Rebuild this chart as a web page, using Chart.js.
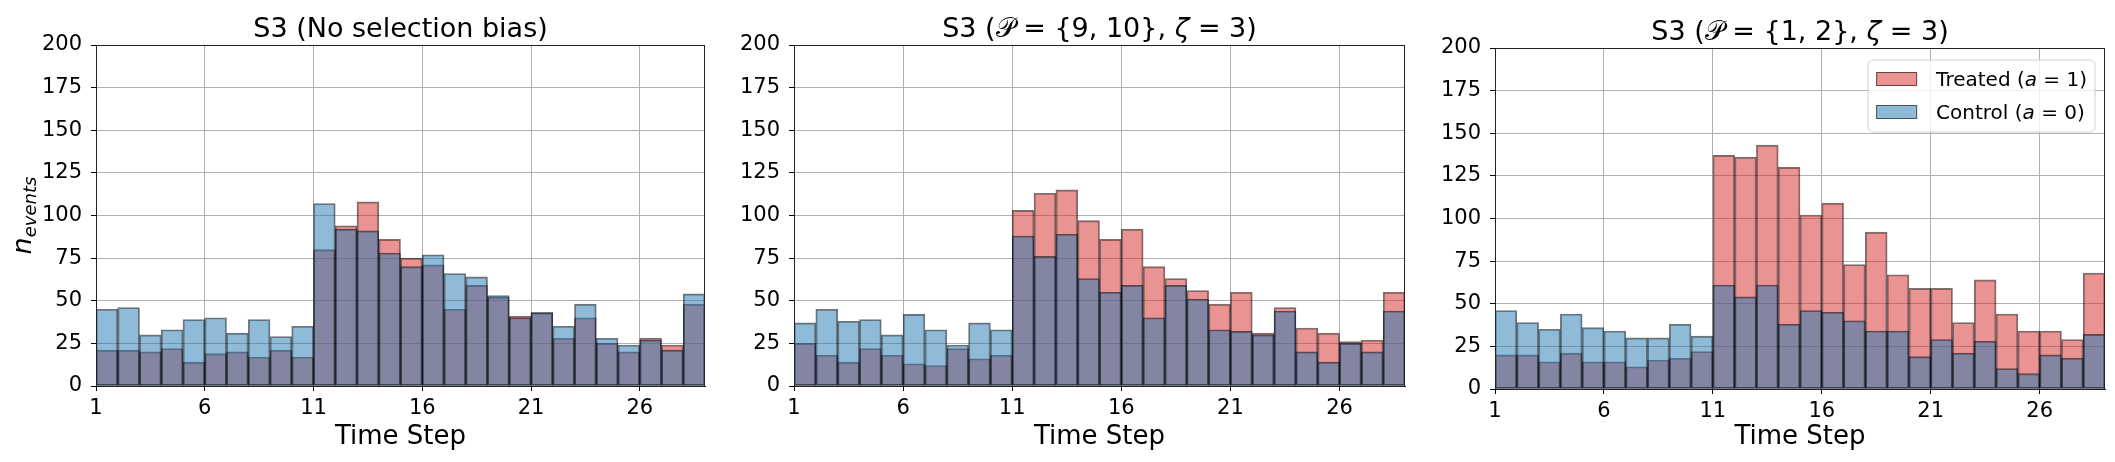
<!DOCTYPE html>
<html lang="en">
<head>
  <meta charset="UTF-8">
  <title>S3 event counts per time step</title>
  <script src="https://cdn.jsdelivr.net/npm/chart.js"></script>
  <style>
    body {
      margin: 0;
      background-color: #fff;
      font-family: 'DejaVu Sans', sans-serif;
    }
    /* one absolutely placed box per panel */
    .panel {
      position: absolute;
      top: 0;
      height: 462px;
    }
  </style>
</head>
<body>

<div class="panel" style="left:0px;width:720px"><canvas id="c1" width="720" height="462"></canvas></div>
<div class="panel" style="left:720px;width:700px"><canvas id="c2" width="700" height="462"></canvas></div>
<div class="panel" style="left:1420px;width:695px"><canvas id="c3" width="695" height="462"></canvas></div>

<script>
  // Time steps (each histogram bin runs from t to t+1)
  const timeSteps = [1, 2, 3, 4, 5, 6, 7, 8, 9, 10, 11, 12, 13, 14, 15, 16, 17, 18, 19, 20, 21, 22, 23, 24, 25, 26, 27, 28];
  const xTicks = [1, 6, 11, 16, 21, 26];
  const yTicks = [0, 25, 50, 75, 100, 125, 150, 175, 200];

  // S3, no selection bias
  const treatedNoBias = [21, 21, 20, 22, 14, 19, 20, 17, 21, 17, 80, 94, 108, 86, 75, 71, 45, 59, 52, 41, 43, 28, 40, 25, 20, 28, 24, 48];
  const controlNoBias = [45, 46, 30, 33, 39, 40, 31, 39, 29, 35, 107, 92, 91, 78, 70, 77, 66, 64, 53, 40, 43, 35, 48, 28, 24, 27, 21, 54];

  // S3, P = {9, 10}, zeta = 3
  const treated910 = [25, 18, 14, 22, 18, 13, 12, 22, 16, 18, 103, 113, 115, 97, 86, 92, 70, 63, 56, 48, 55, 31, 46, 34, 31, 26, 27, 55];
  const control910 = [37, 45, 38, 39, 30, 42, 33, 24, 37, 33, 88, 76, 89, 63, 55, 59, 40, 59, 51, 33, 32, 30, 44, 20, 14, 25, 20, 44];

  // S3, P = {1, 2}, zeta = 3
  const treated12 = [20, 20, 16, 21, 16, 16, 13, 17, 18, 22, 137, 136, 143, 130, 102, 109, 73, 92, 67, 59, 59, 39, 64, 44, 34, 34, 29, 68];
  const control12 = [46, 39, 35, 44, 36, 34, 30, 30, 38, 31, 61, 54, 61, 38, 46, 45, 40, 34, 34, 19, 29, 21, 28, 12, 9, 20, 18, 32];

  // titles and legend labels as [text, style] pieces ('i' = italic)
  const titleNoBias = [['S3 (No selection bias)', 'n']];
  const title910 = [['S3 (', 'n'], ['\u{1D4AB}', 'n'], [' = {9, 10}, ', 'n'], ['\u03B6', 'i'], [' = 3)', 'n']];
  const title12 = [['S3 (', 'n'], ['\u{1D4AB}', 'n'], [' = {1, 2}, ', 'n'], ['\u03B6', 'i'], [' = 3)', 'n']];
  const legendTreated = [['Treated (', 'n'], ['a', 'i'], [' = 1)', 'n']];
  const legendControl = [['Control (', 'n'], ['a', 'i'], [' = 0)', 'n']];

  const RED = 'rgba(214, 39, 40, 0.5)';
  const BLUE = 'rgba(31, 119, 180, 0.5)';
  const EDGE = 'rgba(0, 0, 0, 0.55)';
  const FONT = 'DejaVu Sans';

  // draw a run of text pieces, returns total width
  function drawPieces(ctx, pieces, x, y, size, centered) {
    const fonts = pieces.map(p => (p[1] === 'i' ? 'italic ' : '') + size + 'px "' + FONT + '"');
    const widths = pieces.map((p, i) => { ctx.font = fonts[i]; return ctx.measureText(p[0]).width; });
    const total = widths.reduce((a, b) => a + b, 0);
    let cx = centered ? x - total / 2 : x;
    ctx.textAlign = 'left';
    ctx.textBaseline = 'alphabetic';
    pieces.forEach((p, i) => {
      ctx.font = fonts[i];
      ctx.fillText(p[0], cx, y);
      cx += widths[i];
    });
    return total;
  }

  function piecesWidth(ctx, pieces, size) {
    return pieces.reduce((s, p) => {
      ctx.font = (p[1] === 'i' ? 'italic ' : '') + size + 'px "' + FONT + '"';
      return s + ctx.measureText(p[0]).width;
    }, 0);
  }

  function makeDecor(cfg) {
    return {
      id: 'decor',
      afterDraw(chart) {
        const ctx = chart.ctx;
        const a = chart.chartArea;
        ctx.save();
        ctx.fillStyle = '#000';

        // frame round the axes
        ctx.strokeStyle = '#222';
        ctx.lineWidth = 1;
        ctx.strokeRect(a.left + 0.5, a.top + 0.5, a.right - a.left - 1, a.bottom - a.top);

        // title
        drawPieces(ctx, cfg.title, (a.left + a.right) / 2, a.top - 8, 27, true);

        // y label n_events
        if (cfg.yLabel) {
          ctx.save();
          ctx.translate(31, (a.top + a.bottom) / 2);
          ctx.rotate(-Math.PI / 2);
          ctx.font = 'italic 27px "' + FONT + '"';
          const wn = ctx.measureText('n').width;
          ctx.font = 'italic 18px "' + FONT + '"';
          const we = ctx.measureText('events').width;
          const x0 = -(wn + we) / 2;
          ctx.textBaseline = 'alphabetic';
          ctx.font = 'italic 27px "' + FONT + '"';
          ctx.fillText('n', x0, 0);
          ctx.font = 'italic 18px "' + FONT + '"';
          ctx.fillText('events', x0 + wn, 5);
          ctx.restore();
        }

        // legend box inside the axes
        if (cfg.legend) {
          const rows = [[legendTreated, RED], [legendControl, BLUE]];
          const textW = Math.max(...rows.map(r => piecesWidth(ctx, r[0], 20)));
          const boxW = 68 + textW + 8;
          const boxH = 72;
          const bx = a.right - 10 - boxW;
          const by = a.top + 12;
          ctx.beginPath();
          ctx.roundRect(bx, by, boxW, boxH, 5);
          ctx.fillStyle = 'rgba(255, 255, 255, 0.8)';
          ctx.fill();
          ctx.strokeStyle = '#d0d0d0';
          ctx.stroke();
          rows.forEach((r, i) => {
            const cy = by + 19 + i * 33;
            ctx.fillStyle = r[1];
            ctx.fillRect(bx + 8, cy - 7, 41, 14);
            ctx.strokeStyle = EDGE;
            ctx.strokeRect(bx + 8.5, cy - 6.5, 40, 13);
            ctx.fillStyle = '#000';
            drawPieces(ctx, r[0], bx + 68, cy + 7, 20, false);
          });
        }
        ctx.restore();
      }
    };
  }

  function makeChart(cfg) {
    const toBins = vals => timeSteps.map((t, i) => ({ x: t + 0.5, y: vals[i] }));
    new Chart(document.getElementById(cfg.id), {
      type: 'bar',
      data: {
        datasets: [
          // control first so it is painted on top of treated
          { label: 'Control (a = 0)', data: toBins(cfg.control), backgroundColor: BLUE },
          { label: 'Treated (a = 1)', data: toBins(cfg.treated), backgroundColor: RED }
        ]
      },
      options: {
        responsive: false,
        animation: false,
        layout: { padding: { left: 0, right: cfg.right, top: cfg.top, bottom: 0 } },
        datasets: {
          bar: {
            grouped: false,
            barPercentage: 1,
            categoryPercentage: 1,
            borderColor: EDGE,
            borderWidth: 1.2,
            borderSkipped: false
          }
        },
        scales: {
          x: {
            type: 'linear',
            min: 1,
            max: 29,
            offset: false,
            z: 1,
            afterBuildTicks: s => { s.ticks = xTicks.map(v => ({ value: v })); },
            afterFit: s => { s.height = cfg.xHeight; },
            grid: { offset: false, color: '#b0b0b0', lineWidth: 1, tickColor: '#000', tickLength: 5 },
            border: { color: '#222' },
            ticks: { color: '#000', padding: 5, maxRotation: 0, font: { family: FONT, size: 21 } },
            title: { display: true, text: 'Time Step', color: '#000', padding: { top: 0, bottom: 9 }, font: { family: FONT, size: 26 } }
          },
          y: {
            min: 0,
            max: 200,
            z: 1,
            afterBuildTicks: s => { s.ticks = yTicks.map(v => ({ value: v })); },
            afterFit: s => { s.width = cfg.left; },
            grid: { color: '#b0b0b0', lineWidth: 1, tickColor: '#000', tickLength: 5 },
            border: { color: '#222' },
            ticks: { color: '#000', padding: 9, font: { family: FONT, size: 21 } }
          }
        },
        plugins: {
          legend: { display: false },
          tooltip: { enabled: false }
        }
      },
      plugins: [makeDecor(cfg)]
    });
  }

  makeChart({ id: 'c1', title: titleNoBias, treated: treatedNoBias, control: controlNoBias, left: 96, right: 15, top: 45, xHeight: 76, yLabel: true, legend: false });
  makeChart({ id: 'c2', title: title910, treated: treated910, control: control910, left: 74, right: 15, top: 45, xHeight: 76, yLabel: false, legend: false });
  makeChart({ id: 'c3', title: title12, treated: treated12, control: control12, left: 75, right: 10, top: 48, xHeight: 73, yLabel: false, legend: true });
</script>

</body>
</html>
